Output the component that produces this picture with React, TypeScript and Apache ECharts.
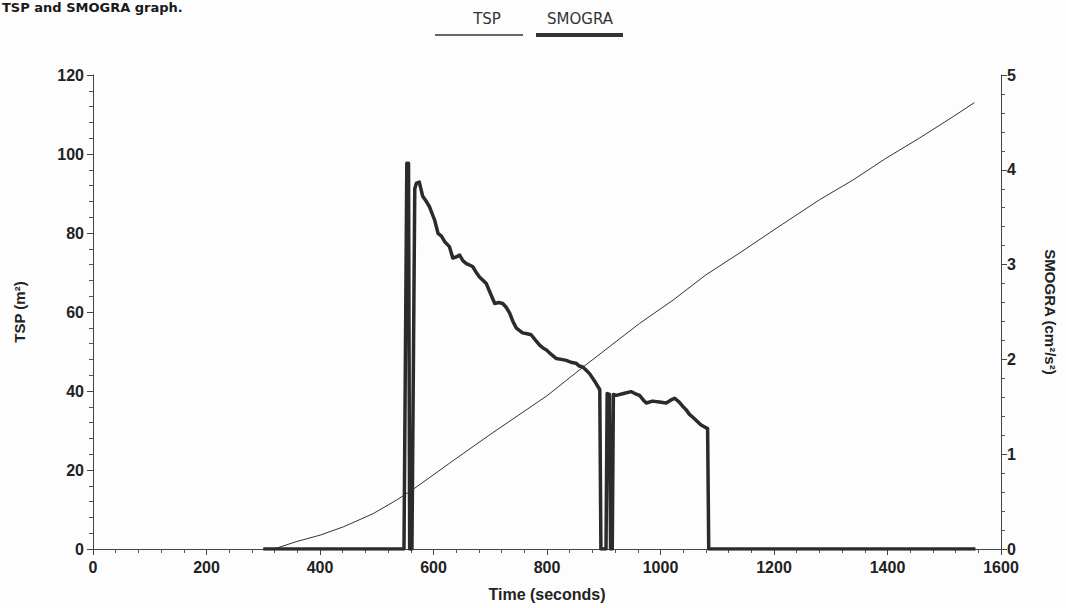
import React, { useEffect, useRef } from "react";
import * as echarts from "echarts";

const xTicks = [0, 200, 400, 600, 800, 1000, 1200, 1400, 1600];

const tspTime = [300, 323, 358, 400, 441, 493, 535, 564, 600, 628, 700, 800, 863, 963, 1022, 1080, 1139, 1200, 1280, 1339, 1397, 1456, 1515, 1553];
const tspValue = [0, 0.2, 1.85, 3.5, 5.6, 8.9, 12.4, 15.1, 18.8, 21.7, 29.0, 38.8, 46, 57.1, 63, 69.4, 74.9, 80.8, 88.4, 93.4, 98.9, 104, 109.4, 113];

const smograTime = [300, 548, 553, 556, 558, 562, 567, 570, 575, 581, 588, 593, 602, 608, 614, 620, 628, 634, 640, 646, 652, 658, 669, 675, 681, 693, 700, 708, 715, 722, 728, 734, 740, 746, 757, 765, 772, 780, 787, 793, 799, 808, 816, 825, 834, 842, 851, 857, 863, 870, 875, 884, 893, 895, 904, 906, 910, 912, 915, 917, 922, 935, 948, 955, 963, 970, 975, 986, 998, 1010, 1018, 1025, 1033, 1040, 1045, 1051, 1057, 1064, 1071, 1077, 1083, 1085, 1555];
const smograValue = [0, 0, 4.07, 4.07, 0, 0, 3.8, 3.86, 3.87, 3.72, 3.66, 3.61, 3.47, 3.33, 3.3, 3.24, 3.19, 3.07, 3.08, 3.1, 3.04, 3.01, 2.98, 2.92, 2.87, 2.8, 2.7, 2.59, 2.6, 2.59, 2.55, 2.49, 2.4, 2.33, 2.28, 2.27, 2.26, 2.2, 2.15, 2.12, 2.1, 2.05, 2.01, 2.0, 1.99, 1.97, 1.96, 1.93, 1.92, 1.88, 1.85, 1.77, 1.68, 0, 0, 1.64, 1.63, 0, 0, 1.63, 1.62, 1.64, 1.66, 1.64, 1.62, 1.57, 1.54, 1.56, 1.55, 1.54, 1.57, 1.59, 1.55, 1.5, 1.47, 1.42, 1.39, 1.35, 1.31, 1.29, 1.27, 0, 0];

const titleText = "TSP and SMOGRA graph.";
const legendNames = ["TSP", "SMOGRA"];
const xName = "Time (seconds)";
const yLeftName = "TSP (m²)";
const yRightName = "SMOGRA (cm²/s²)";

export default function App() {
  const ref = useRef<HTMLDivElement>(null);
  useEffect(() => {
    if (!ref.current) return;
    const chart = echarts.init(ref.current, null, { renderer: "svg" });
    const ink = "#2b2b2b";
    const labelFont = { color: "#222", fontFamily: "Liberation Sans, Arial", fontWeight: "bold" as const, fontSize: 16 };
    chart.setOption({
      animation: false,
      backgroundColor: "#fdfdfd",
      grid: { left: 93, right: 64, top: 75, bottom: 59, containLabel: false },
      xAxis: {
        type: "value",
        min: 0,
        max: 1600,
        interval: 200,
        name: xName,
        nameLocation: "middle",
        nameGap: 37,
        nameTextStyle: { ...labelFont, fontSize: 16 },
        axisLine: { lineStyle: { color: "#444", width: 1 } },
        axisTick: { show: true, inside: false, length: 6, lineStyle: { color: "#444" } },
        minorTick: { show: true, splitNumber: 5, length: 4, lineStyle: { color: "#555" } },
        splitLine: { show: false },
        axisLabel: { ...labelFont, margin: 10, formatter: (v: number) => (xTicks.includes(v) ? String(v) : "") },
      },
      yAxis: [
        {
          type: "value",
          min: 0,
          max: 120,
          interval: 20,
          name: yLeftName,
          nameLocation: "middle",
          nameGap: 66,
          nameRotate: 90,
          nameTextStyle: { ...labelFont, fontSize: 15 },
          axisLine: { show: true, lineStyle: { color: "#444", width: 1 } },
          axisTick: { show: true, inside: false, length: 6, lineStyle: { color: "#444" } },
          minorTick: { show: true, splitNumber: 5, length: 4, lineStyle: { color: "#555" } },
          splitLine: { show: false },
          axisLabel: { ...labelFont, margin: 9 },
        },
        {
          type: "value",
          min: 0,
          max: 5,
          interval: 1,
          position: "right",
          name: yRightName,
          nameLocation: "middle",
          nameGap: 42,
          nameRotate: -90,
          nameTextStyle: { ...labelFont, fontSize: 15 },
          axisLine: { show: true, lineStyle: { color: "#444", width: 1 } },
          axisTick: { show: true, inside: false, length: 6, lineStyle: { color: "#444" } },
          minorTick: { show: true, splitNumber: 5, length: 4, lineStyle: { color: "#555" } },
          splitLine: { show: false },
          axisLabel: { ...labelFont, margin: 6 },
        },
      ],
      series: [
        {
          name: legendNames[0],
          type: "line",
          yAxisIndex: 0,
          showSymbol: false,
          data: tspTime.map((t, i) => [t, tspValue[i]]),
          lineStyle: { color: "#333", width: 1 },
          z: 3,
        },
        {
          name: legendNames[1],
          type: "line",
          yAxisIndex: 1,
          showSymbol: false,
          data: smograTime.map((t, i) => [t, smograValue[i]]),
          lineStyle: { color: ink, width: 3.5, join: "round" },
          z: 2,
        },
      ],
      graphic: [
        {
          type: "text",
          left: 2,
          top: 1,
          style: { text: titleText, fontFamily: "DejaVu Sans", fontWeight: "bold", fontSize: 13, fill: "#1a1a1a" },
        },
        {
          type: "text",
          x: 487,
          y: 19,
          style: { text: legendNames[0], fontFamily: "DejaVu Sans", fontSize: 15, fill: "#333", align: "center", verticalAlign: "middle" },
        },
        {
          type: "line",
          shape: { x1: 435, y1: 35, x2: 523, y2: 35 },
          style: { stroke: "#333", lineWidth: 1.5 },
        },
        {
          type: "text",
          x: 580,
          y: 19,
          style: { text: legendNames[1], fontFamily: "DejaVu Sans", fontSize: 15, fill: "#333", align: "center", verticalAlign: "middle" },
        },
        {
          type: "line",
          shape: { x1: 536, y1: 35, x2: 623, y2: 35 },
          style: { stroke: "#333", lineWidth: 4 },
        },
      ],
    });
    return () => chart.dispose();
  }, []);
  return <div ref={ref} style={{ position: "absolute", left: 0, top: 0, width: 1066, height: 608 }} />;
}
